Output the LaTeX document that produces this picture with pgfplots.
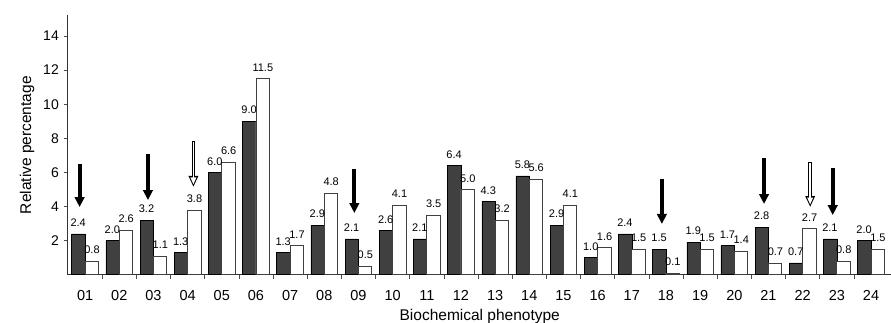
\documentclass[border=0pt]{standalone}
\usepackage{fontspec}
\setmainfont{Liberation Sans}
\usepackage{pgfplots}
\usepackage{pgfplotstable}
\pgfplotsset{compat=1.18}
\usetikzlibrary{arrows.meta}

\pgfplotstableread{
x a b
0 2.4 0.8
1 2.0 2.6
2 3.2 1.1
3 1.3 3.8
4 6.0 6.6
5 9.0 11.5
6 1.3 1.7
7 2.9 4.8
8 2.1 0.5
9 2.6 4.1
10 2.1 3.5
11 6.4 5.0
12 4.3 3.2
13 5.8 5.6
14 2.9 4.1
15 1.0 1.6
16 2.4 1.5
17 1.5 0.1
18 1.9 1.5
19 1.7 1.4
20 2.8 0.7
21 0.7 2.7
22 2.1 0.8
23 2.0 1.5
}\data

\pgfplotstableread{
x y v
-0.16 6.49 -2.52
1.84 7.08 -2.70
7.88 6.20 -2.58
16.88 5.62 -2.64
19.87 6.85 -2.70
21.88 6.26 -2.76
}\blackarrows

\pgfplotstableread{
x y v
3.17 7.84 -2.69
21.22 6.61 -2.64
}\whitearrows

\pgfplotstableread{
x y v
3.17 7.78 -2.48
21.22 6.55 -2.43
}\whiteinner

\begin{document}
\begin{tikzpicture}
\begin{axis}[
  scale only axis,
  width=823.5pt, height=259.3pt,
  xmin=-0.5, xmax=23.6,
  ymin=0, ymax=15.2,
  axis x line=bottom, axis y line=left,
  axis line style={-, black!80, line width=1pt},
  xtick={0,...,23},
  xticklabels={01,02,03,04,05,06,07,08,09,10,11,12,13,14,15,16,17,18,19,20,21,22,23,24},
  minor xtick={0.5,1.5,...,22.5},
  every major x tick/.append style={draw=none},
  every minor x tick/.append style={draw=black!70, line width=0.6pt},
  minor tick length=4pt,
  major tick length=4pt,
  tick align=outside,
  ytick={2,4,...,14},
  every major y tick/.append style={draw=black!70, line width=0.6pt},
  /pgf/number format/assume math mode=true,
  xticklabel style={font=\fontsize{14.5}{16}\selectfont, anchor=base, inner sep=0pt, yshift=-22pt},
  yticklabel style={font=\fontsize{14}{15}\selectfont, anchor=east, inner sep=0pt, xshift=-5pt},
  every axis x label/.style={at={(axis description cs:0.5,0)}, anchor=base, yshift=-45.5pt, font=\fontsize{15.5}{18}\selectfont},
  every axis y label/.style={at={(axis description cs:0,0.5)}, rotate=90, anchor=center, yshift=41pt, font=\fontsize{15.5}{18}\selectfont},
  xlabel={Biochemical phenotype},
  ylabel={Relative percentage},
  clip=true,
]
\addplot[ybar, bar width=0.39, bar shift=-0.195, fill=black!75, draw=black, line width=0.6pt,
  nodes near coords={\pgfmathprintnumber[fixed,fixed zerofill,precision=1,assume math mode=true]{\pgfplotspointmeta}},
  every node near coord/.append style={font=\fontsize{11}{13}\selectfont, anchor=south, inner sep=0pt, yshift=7pt, xshift=-6.9pt, black}]
  table[x=x, y=a] {\data};
\addplot[ybar, bar width=0.39, bar shift=0.195, fill=white, draw=black!75, line width=0.7pt,
  nodes near coords={\pgfmathprintnumber[fixed,fixed zerofill,precision=1,assume math mode=true]{\pgfplotspointmeta}},
  every node near coord/.append style={font=\fontsize{11}{13}\selectfont, anchor=south, inner sep=0pt, yshift=7pt, xshift=6.9pt, black}]
  table[x=x, y=b] {\data};
\addplot[black, line width=4pt, -{Triangle[width=9.5pt, length=10pt]},
  quiver={u=0, v=\thisrow{v}}] table[x=x, y=y] {\blackarrows};
\addplot[black, line width=3.6pt, -{Triangle[width=9pt, length=11pt]},
  quiver={u=0, v=\thisrow{v}}] table[x=x, y=y] {\whitearrows};
\addplot[white, line width=1.6pt, -{Triangle[width=5.6pt, length=7pt]},
  quiver={u=0, v=\thisrow{v}}] table[x=x, y=y] {\whiteinner};
\end{axis}
\pgfresetboundingbox
\path[use as bounding box] ([shift={(-68pt,-48.2pt)}]current axis.south west) rectangle ([shift={(823pt,274.8pt)}]current axis.south west);
\end{tikzpicture}
\end{document}
